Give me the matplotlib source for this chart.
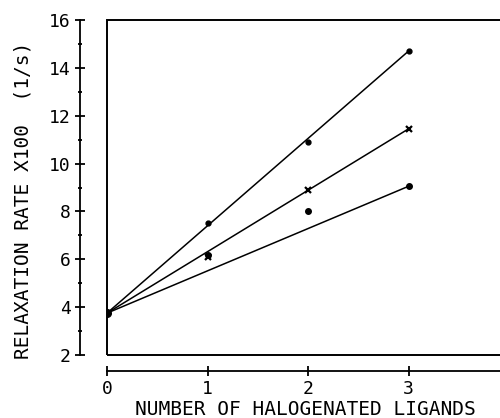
import matplotlib

matplotlib.use("Agg")

import matplotlib.pyplot as plt
import numpy as np
from matplotlib.patches import Rectangle
from matplotlib.ticker import MultipleLocator

# measured relaxation rates (x100, 1/s) vs. number of halogenated ligands
n_lig = [0, 1, 2, 3]
rate_top = [3.75, 7.5, 10.9, 14.7]
rate_mid = [3.75, 6.1, 8.9, 11.45]
rate_low = [3.75, 6.2, 8.0, 9.05]

# fit lines (intercept, slope)
fit_top = (3.75, 3.65)
fit_mid = (3.75, 2.567)
fit_low = (3.75, 1.767)

FONT = "DejaVu Sans Mono"

fig = plt.figure(figsize=(5.0, 4.18), dpi=100)
ax = fig.add_axes([0.214, 0.1507, 0.804, 0.8014])

xfit = np.array([0.0, 3.0])
for b, m in (fit_top, fit_mid, fit_low):
    ax.plot(xfit, b + m * xfit, color="black", linewidth=1.1)

ax.plot(n_lig[1:], rate_top[1:], "o", color="black", markersize=3.5)
ax.plot(n_lig[1:], rate_mid[1:], "x", color="black", markersize=4.5, markeredgewidth=1.6)
ax.plot(n_lig[1:], rate_low[1:], "o", color="black", markersize=4)
ax.plot(n_lig[0], rate_top[0], "o", color="black", markersize=5.5)

ax.set_xlim(0, 4.0)
ax.set_ylim(2, 16)
ax.set_xticks([0, 1, 2, 3])
ax.yaxis.set_major_locator(MultipleLocator(2))
ax.yaxis.set_minor_locator(MultipleLocator(1))

for side in ("top", "right"):
    ax.spines[side].set_visible(False)
ax.spines["left"].set_position(("outward", 19.5))
ax.spines["bottom"].set_position(("outward", 11.3))
ax.spines["left"].set_linewidth(1.3)
ax.spines["bottom"].set_linewidth(1.3)

ax.add_patch(Rectangle((0, 0), 1, 1, transform=ax.transAxes, fill=False,
                       edgecolor="black", linewidth=1.4, clip_on=False))

ax.tick_params(axis="both", which="major", direction="inout", length=7, width=1.3,
               labelsize=13, pad=3)
ax.tick_params(axis="y", which="minor", direction="inout", length=3, width=1.3)
ax.tick_params(axis="x", which="minor", length=0)
for lab in ax.get_xticklabels() + ax.get_yticklabels():
    lab.set_fontfamily(FONT)

ax.set_xlabel("NUMBER OF HALOGENATED LIGANDS", fontsize=14, fontfamily=FONT)
ax.xaxis.set_label_coords(0.494, -0.133)
ax.set_ylabel("RELAXATION RATE X100  (1/s)", fontsize=14, fontfamily=FONT, va="center")
ax.yaxis.set_label_coords(-0.209, 0.463)

fig.savefig("out.png", dpi=100)
